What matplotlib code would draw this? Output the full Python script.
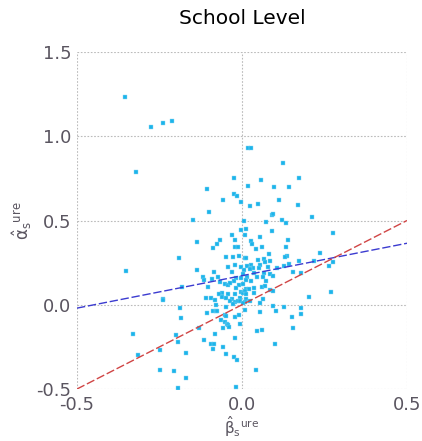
import numpy as np
import matplotlib
matplotlib.use("Agg")
import matplotlib.pyplot as plt

# estimated school level coefficients (beta_hat, alpha_hat)
beta_hat = [
    -0.356, -0.277, -0.239, -0.213, 0.017, 0.026,
    -0.320, 0.123, -0.024, 0.059, 0.174, 0.017, 0.096, 0.143, -0.106, -0.024,
    -0.015, -0.057, 0.113, -0.003, 0.047, 0.024, 0.170, -0.100, 0.092, 0.094,
    0.213, -0.148, 0.121, 0.006, 0.074, 0.132, 0.011, -0.002, 0.275, -0.030,
    0.009, -0.068, 0.027, -0.136, 0.140, -0.075, -0.021, 0.054, -0.087, -0.020,
    -0.012, 0.030, 0.061, 0.043, 0.091, 0.132, 0.083, 0.237, 0.135, 0.129,
    -0.191, -0.047, -0.009, -0.027, 0.008, 0.013, 0.050, 0.067, 0.071, 0.084,
    0.174, 0.218, 0.276, 0.026, -0.020, 0.054, -0.043, -0.004, 0.014, 0.032,
    0.080, 0.126, 0.141, 0.265, -0.351, -0.135, 0.023, 0.051, 0.007, -0.030,
    -0.084, -0.117, -0.090, -0.073, 0.037, 0.067, 0.086, 0.106, 0.095, 0.155,
    0.179, 0.004, -0.019, -0.004, 0.014, 0.045, 0.064, -0.115, -0.023, 0.028,
    0.074, 0.013, -0.066, -0.053, -0.043, -0.035, -0.182, -0.104, -0.010, 0.003,
    0.035, 0.061, 0.069, -0.019, 0.013, 0.021, 0.086, 0.094, -0.060, -0.071,
    -0.042, -0.021, -0.003, 0.003, 0.008, 0.012, 0.037, 0.270, 0.204, -0.110,
    -0.093, -0.060, -0.049, -0.029, -0.006, 0.013, 0.064, -0.240,
    -0.240, -0.083, -0.037, -0.021, -0.027, -0.013, -0.005, 0.010, 0.025, 0.056,
    0.094, 0.128, 0.180, 0.180, 0.102, 0.055, 0.009, 0.002, -0.080, -0.188,
    -0.184, -0.106, -0.088, -0.080, -0.077, -0.048, -0.053, -0.047, -0.063, -0.052,
    -0.046, -0.041, -0.039, -0.058, -0.020, -0.009, -0.006, -0.130, 0.152, 0.156,
    0.044, 0.061, -0.081, -0.331, -0.200, -0.021, -0.116, -0.193, -0.095, -0.085,
    0.099, -0.088, -0.059, -0.248, -0.316, -0.171, -0.048, -0.023, -0.015, -0.250,
    -0.207, 0.043, -0.170, -0.195, -0.017,
]
alpha_hat = [
    1.230, 1.056, 1.079, 1.091, 0.933, 0.933,
    0.788, 0.843, 0.752, 0.740, 0.754, 0.706, 0.698, 0.698, 0.685, 0.655,
    0.645, 0.623, 0.621, 0.611, 0.597, 0.587, 0.591, 0.550, 0.532, 0.540,
    0.520, 0.504, 0.504, 0.498, 0.492, 0.484, 0.452, 0.442, 0.423, 0.415,
    0.411, 0.387, 0.379, 0.373, 0.387, 0.363, 0.383, 0.401, 0.337, 0.341,
    0.341, 0.361, 0.341, 0.331, 0.437, 0.343, 0.302, 0.308, 0.292, 0.286,
    0.278, 0.286, 0.292, 0.282, 0.278, 0.276, 0.266, 0.272, 0.254, 0.258,
    0.258, 0.258, 0.254, 0.238, 0.238, 0.238, 0.226, 0.226, 0.230, 0.218,
    0.222, 0.232, 0.242, 0.228, 0.202, 0.208, 0.212, 0.216, 0.204, 0.192,
    0.192, 0.167, 0.153, 0.165, 0.188, 0.188, 0.185, 0.218, 0.173, 0.192,
    0.188, 0.185, 0.159, 0.159, 0.163, 0.167, 0.163, 0.145, 0.139, 0.143,
    0.141, 0.149, 0.133, 0.123, 0.119, 0.129, 0.107, 0.105, 0.119, 0.121,
    0.101, 0.103, 0.109, 0.099, 0.093, 0.093, 0.087, 0.079, 0.069, 0.065,
    0.065, 0.062, 0.075, 0.069, 0.079, 0.062, 0.067, 0.075, 0.048, 0.038,
    0.038, 0.048, 0.038, 0.036, 0.038, 0.034, 0.036, 0.034,
    0.026, 0.026, 0.024, 0.016, 0.006, 0.024, 0.022, 0.016, 0.024, 0.010,
    -0.006, -0.014, -0.022, -0.054, -0.036, -0.044, -0.032, 0.012, -0.002, -0.018,
    -0.081, -0.050, -0.036, -0.038, -0.040, -0.014, -0.060, -0.067, -0.091, -0.105,
    -0.113, -0.121, -0.131, -0.139, -0.071, -0.063, -0.113, -0.139, -0.075, -0.139,
    -0.153, -0.147, -0.175, -0.175, -0.181, -0.196, -0.210, -0.224, -0.230, -0.232,
    -0.230, -0.260, -0.248, -0.270, -0.296, -0.288, -0.292, -0.313, -0.325, -0.389,
    -0.391, -0.387, -0.435, -0.492, -0.490,
]

# fitted line and identity line
fit_intercept = 0.1725
fit_slope = 0.385
x_line = [-0.5, 0.5]

plt.rcParams['font.family'] = ['DejaVu Sans']
plt.rcParams['mathtext.fontset'] = 'custom'
plt.rcParams['mathtext.rm'] = 'DejaVu Sans'
plt.rcParams['mathtext.it'] = 'DejaVu Sans'
plt.rcParams['mathtext.bf'] = 'DejaVu Sans:bold'

fig = plt.figure(figsize=(4.22, 4.41), dpi=100)
ax = fig.add_axes([77 / 422, 52 / 441, 330 / 422, 337 / 441])

ax.scatter(beta_hat, alpha_hat, s=5, marker='s', color='#1cb4ea',
           edgecolors='#8fd8f4', linewidths=0.3, zorder=3)

x_line = np.array(x_line)
ax.plot(x_line, fit_intercept + fit_slope * x_line, color='#3b3bd0',
        linestyle=(0, (6, 2)), linewidth=1.0, zorder=4)
ax.plot(x_line, x_line, color='#d04545', linestyle=(0, (6, 2)),
        linewidth=1.0, zorder=4)

ax.set_xlim(-0.5, 0.5)
ax.set_ylim(-0.5, 1.5)
ax.set_xticks([-0.5, 0.0, 0.5])
ax.set_yticks([-0.5, 0.0, 0.5, 1.0, 1.5])
ax.set_xticklabels(['-0.5', '0.0', '0.5'])
ax.set_yticklabels(['-0.5', '0.0', '0.5', '1.0', '1.5'])
ax.grid(True, color='#bbbbbb', linestyle=(0, (1.5, 1.5)), linewidth=0.8)
ax.set_axisbelow(True)
for s in ax.spines.values():
    s.set_visible(False)
ax.tick_params(length=0, labelsize=13, labelcolor='#5a5560', pad=4)
ax.tick_params(axis='x', pad=5)

ax.set_title('School Level', fontsize=14.5, pad=20)
ax.set_xlabel(r'$\hat{\beta}_{s}{}^{\mathrm{ure}}$', fontsize=11, color='#5a5560', labelpad=0)
ax.set_ylabel(r'$\hat{\alpha}_{s}{}^{\mathrm{ure}}$', fontsize=12, color='#5a5560', labelpad=2)

fig.savefig('out.png', dpi=100)
